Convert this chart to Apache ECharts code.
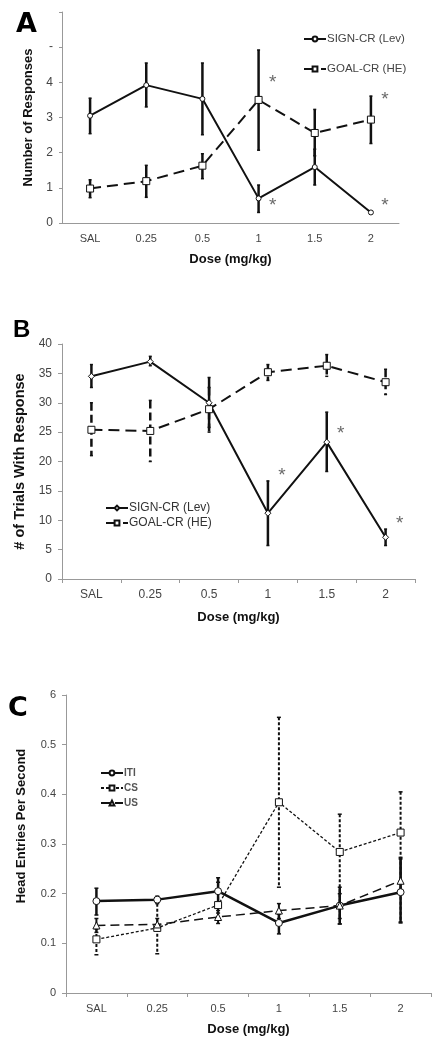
<!DOCTYPE html>
<html><head><meta charset="utf-8">
<script src="https://cdn.jsdelivr.net/npm/echarts@6/dist/echarts.min.js"></script>
<style>html,body{margin:0;padding:0;background:#fff}#c{width:446px;height:1048px}</style>
</head><body><div id="c"></div>
<script>
// ---- data ----
const doses = ['SAL', '0.25', '0.5', '1', '1.5', '2'];

// Panel A: Number of Responses
const aSign = [3.05, 3.92, 3.53, 0.70, 1.59, 0.30];
const aSignLo = [2.54, 3.30, 2.51, 0.30, 1.08, 0.28];
const aSignHi = [3.55, 4.55, 4.55, 1.08, 2.10, 0.32];
const aGoal = [0.98, 1.19, 1.63, 3.50, 2.56, 2.94];
const aGoalLo = [0.72, 0.73, 1.26, 2.07, 1.91, 2.26];
const aGoalHi = [1.23, 1.64, 1.97, 4.92, 3.23, 3.61];
const aYLabels = ['0', '1', '2', '3', '4', '-', ''];
const aStars = [['1', 4.0], ['1', 0.5], ['2', 3.5], ['2', 0.5]];

// Panel B: # of Trials With Response
const bSign = [34.5, 37.0, 30.0, 11.2, 23.3, 7.1];
const bSignLo = [32.6, 36.3, 25.8, 5.7, 18.3, 5.7];
const bSignHi = [36.5, 37.9, 34.3, 16.7, 28.4, 8.5];
const bGoal = [25.4, 25.2, 28.9, 35.2, 36.3, 33.5];
const bGoalLo = [21.0, 20.0, 25.0, 33.8, 34.5, 31.4];
const bGoalHi = [30.0, 30.4, 32.6, 36.5, 38.2, 35.7];
const bStars = [['1', 17.6], ['1.5', 24.7], ['2', 9.4]];

// Panel C: Head Entries Per Second
const cITI = [0.185, 0.188, 0.205, 0.141, 0.176, 0.203];
const cITILo = [0.157, 0.180, 0.180, 0.119, 0.139, 0.141];
const cITIHi = [0.211, 0.195, 0.232, 0.159, 0.213, 0.270];
const cCS = [0.108, 0.131, 0.177, 0.384, 0.284, 0.323];
const cCSLo = [0.077, 0.079, 0.161, 0.213, 0.139, 0.143];
const cCSHi = [0.129, 0.190, 0.223, 0.555, 0.360, 0.405];
const cUS = [0.136, 0.138, 0.153, 0.166, 0.176, 0.226];
const cUSLo = [0.122, 0.126, 0.140, 0.150, 0.150, 0.200];
const cUSHi = [0.150, 0.150, 0.166, 0.180, 0.200, 0.273];
const cYLabels = ['0', '0.1', '0.2', '0.3', '0.4', '0.5', '6'];

// ---- helpers ----
const FONT = '"Liberation Sans", Arial, sans-serif';
const INK = '#111';

function errData(lo, hi) { return lo.map((l, i) => [i, l, hi[i]]); }
function errSeries(idx, lo, hi, opt) {
  return {
    type: 'custom', xAxisIndex: idx, yAxisIndex: idx, z: 1,
    data: errData(lo, hi),
    encode: { x: 0, y: [1, 2] },
    renderItem: function (params, api) {
      const x = api.value(0), l = api.value(1), h = api.value(2);
      const p1 = api.coord([x, h]), p2 = api.coord([x, l]);
      const st = { stroke: INK, lineWidth: opt.w, lineDash: opt.dash || null };
      const cw = opt.cap;
      return { type: 'group', children: [
        { type: 'line', shape: { x1: p1[0], y1: p1[1], x2: p2[0], y2: p2[1] }, style: st },
        { type: 'line', shape: { x1: p1[0] - cw, y1: p1[1], x2: p1[0] + cw, y2: p1[1] }, style: { stroke: INK, lineWidth: 1.5 } },
        { type: 'line', shape: { x1: p2[0] - cw, y1: p2[1], x2: p2[0] + cw, y2: p2[1] }, style: { stroke: INK, lineWidth: 1.5 } }
      ] };
    }
  };
}
function lineSeries(idx, name, data, sym, size, w, dash) {
  return {
    type: 'line', name: name, xAxisIndex: idx, yAxisIndex: idx, z: 3,
    data: data, symbol: sym, symbolSize: size, showAllSymbol: true,
    lineStyle: { color: INK, width: w, type: dash || 'solid' },
    itemStyle: { color: '#fff', borderColor: INK, borderWidth: 1 },
    emphasis: { disabled: true }
  };
}
function starSeries(idx, data, offX) {
  return {
    type: 'scatter', xAxisIndex: idx, yAxisIndex: idx, symbolSize: 0, z: 4,
    data: data,
    label: { show: true, formatter: '*', offset: [offX, 0], color: '#444', fontSize: 19, fontFamily: FONT }
  };
}
function xAxis(idx, fs, ticks, nameGap) {
  return {
    type: 'category', gridIndex: idx, data: doses, boundaryGap: true,
    axisLine: { lineStyle: { color: '#999', width: 1 } },
    axisTick: { show: ticks, length: 4, lineStyle: { color: '#999' } },
    axisLabel: { color: '#444', fontSize: fs, fontFamily: FONT, margin: 10 },
    name: 'Dose (mg/kg)', nameLocation: 'middle', nameGap: nameGap,
    nameTextStyle: { color: INK, fontWeight: 'bold', fontSize: 13, fontFamily: FONT }
  };
}

const chart = echarts.init(document.getElementById('c'), null, { renderer: 'canvas' });
const option = {
  animation: false,
  grid: [
    { left: 62, top: 12, right: 47, height: 211 },
    { left: 62, top: 344, right: 31, height: 235 },
    { left: 66, top: 695, right: 15, height: 298 }
  ],
  xAxis: [xAxis(0, 11, false, 30), xAxis(1, 12, true, 32), xAxis(2, 11, true, 30)],
  yAxis: [
    {
      type: 'value', gridIndex: 0, min: 0, max: 6, interval: 1,
      splitLine: { show: false },
      axisLine: { show: true, lineStyle: { color: '#999' } },
      axisTick: { show: true, length: 3, lineStyle: { color: '#999' } },
      axisLabel: { color: '#444', fontSize: 12, fontFamily: FONT, margin: 9,
        formatter: (v, i) => aYLabels[i] },
      name: 'Number of Responses', nameLocation: 'middle', nameGap: 27,
      nameTextStyle: { color: INK, fontWeight: 'bold', fontSize: 13, fontFamily: FONT }
    },
    {
      type: 'value', gridIndex: 1, min: 0, max: 40, interval: 5,
      splitLine: { show: false },
      axisLine: { show: true, lineStyle: { color: '#999' } },
      axisTick: { show: true, length: 4, lineStyle: { color: '#999' } },
      axisLabel: { color: '#444', fontSize: 12, fontFamily: FONT, margin: 10 },
      name: '# of Trials With Response', nameLocation: 'middle', nameGap: 30,
      nameTextStyle: { color: INK, fontWeight: 'bold', fontSize: 14.5, fontFamily: FONT }
    },
    {
      type: 'value', gridIndex: 2, min: 0, max: 0.6, interval: 0.1,
      splitLine: { show: false },
      axisLine: { show: true, lineStyle: { color: '#999' } },
      axisTick: { show: true, length: 4, lineStyle: { color: '#999' } },
      axisLabel: { color: '#444', fontSize: 11, fontFamily: FONT, margin: 10,
        formatter: (v, i) => cYLabels[i] },
      name: 'Head Entries Per Second', nameLocation: 'middle', nameGap: 38,
      nameTextStyle: { color: INK, fontWeight: 'bold', fontSize: 13, fontFamily: FONT, padding: [0, 0, 0, 36] }
    }
  ],
  legend: [
    {
      left: 298, top: 28, orient: 'vertical', itemGap: 18, itemWidth: 22, itemHeight: 6,
      data: ['SIGN-CR (Lev)', 'GOAL-CR (HE)'], selectedMode: false,
      textStyle: { color: '#444', fontSize: 11.5, fontFamily: FONT, padding: [0, 0, 0, -4] }
    },
    {
      left: 100, top: 497, orient: 'vertical', itemGap: 3, itemWidth: 22, itemHeight: 6,
      data: ['SIGN-CR (Lev) ', 'GOAL-CR (HE) '], selectedMode: false,
      textStyle: { color: '#333', fontSize: 12, fontFamily: FONT, padding: [0, 0, 0, -4] }
    },
    {
      left: 95, top: 763, orient: 'vertical', itemGap: 5, itemWidth: 22, itemHeight: 6,
      data: ['ITI', 'CS', 'US'], selectedMode: false,
      textStyle: { color: '#555', fontSize: 10, fontWeight: 'bold', fontFamily: FONT, padding: [0, 0, 0, -4] }
    }
  ],
  graphic: [
    { type: 'text', left: 16, top: 11, style: { text: 'A', fontSize: 27, fontWeight: 900, fontFamily: '"DejaVu Sans", sans-serif', fill: '#000' } },
    { type: 'text', left: 13, top: 318, style: { text: 'B', fontSize: 24, fontWeight: 'bold', fontFamily: FONT, fill: '#000' } },
    { type: 'text', left: 8, top: 695, style: { text: 'C', fontSize: 27, fontWeight: 900, fontFamily: '"DejaVu Sans", sans-serif', fill: '#000' } }
  ],
  series: [
    // A
    errSeries(0, aSignLo, aSignHi, { w: 2.5, cap: 1.5 }),
    errSeries(0, aGoalLo, aGoalHi, { w: 2.5, cap: 1.5 }),
    lineSeries(0, 'SIGN-CR (Lev)', aSign, 'circle', 5, 2, 'solid'),
    lineSeries(0, 'GOAL-CR (HE)', aGoal, 'rect', 7, 2, [11, 6]),
    starSeries(0, aStars, 14),
    // B
    errSeries(1, bSignLo, bSignHi, { w: 2.5, cap: 1.5 }),
    errSeries(1, bGoalLo, bGoalHi, { w: 2.5, cap: 1.5, dash: [8, 4] }),
    lineSeries(1, 'SIGN-CR (Lev) ', bSign, 'diamond', 6, 2, 'solid'),
    lineSeries(1, 'GOAL-CR (HE) ', bGoal, 'rect', 7, 2, [11, 6]),
    starSeries(1, bStars, 14),
    // C
    errSeries(2, cITILo, cITIHi, { w: 2.5, cap: 2 }),
    errSeries(2, cCSLo, cCSHi, { w: 2, cap: 2, dash: [3, 2] }),
    errSeries(2, cUSLo, cUSHi, { w: 2, cap: 2 }),
    lineSeries(2, 'ITI', cITI, 'circle', 7, 2.5, 'solid'),
    lineSeries(2, 'CS', cCS, 'rect', 7, 1.3, [3, 2]),
    lineSeries(2, 'US', cUS, 'triangle', 7, 1.5, [9, 5])
  ]
};
chart.setOption(option);
</script>
</body></html>
